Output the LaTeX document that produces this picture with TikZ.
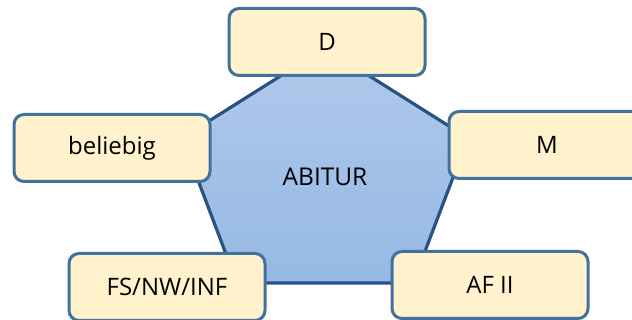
\documentclass[tikz,border=0pt]{standalone}
\usepackage{fontspec}
\setmainfont{Open Sans}

\definecolor{boxfill}{HTML}{FFF2CC}
\definecolor{boxline}{HTML}{41719C}
\definecolor{pentline}{HTML}{285283}
\definecolor{penttop}{HTML}{B0C9EA}
\definecolor{pentbottom}{HTML}{96B9E4}

\begin{document}
\begin{tikzpicture}[x = 1pt, y = -1pt,
    subject/.style = {draw = boxline, fill = boxfill, line width = 3pt,
        rounded corners = 10pt, minimum width = 196pt, minimum height = 67pt,
        inner sep = 0pt, font = \fontsize{24}{28}\selectfont}]

        \useasboundingbox (0, 0) rectangle (632, 320);

        % Pentagon
        \coordinate (top) at (325, 48);
        \coordinate (upleft) at (182, 138);
        \coordinate (upright) at (468, 138);
        \coordinate (lowleft) at (237, 283);
        \coordinate (lowright) at (413, 283);
        \draw [pentline, line width = 3.2pt, line join = round,
            top color = penttop, bottom color = pentbottom]
            (top) -- (upright) -- (lowright) -- (lowleft) -- (upleft) -- cycle;
        \node (abitur) [font = \fontsize{24.5}{28}\selectfont] at (325, 177) {ABITUR};

        % Subjects
        \node (deutsch) [subject] at (327, 42) {D};
        \node (mathe) [subject] at (547, 145) {M};
        \node (afzwei) [subject] at (490, 285) {AF II};
        \node (fsnwinf) [subject] at (167, 287) {FS/NW/INF};
        \node (beliebig) [subject] at (112, 148) {beliebig};

    \end{tikzpicture}
\end{document}
